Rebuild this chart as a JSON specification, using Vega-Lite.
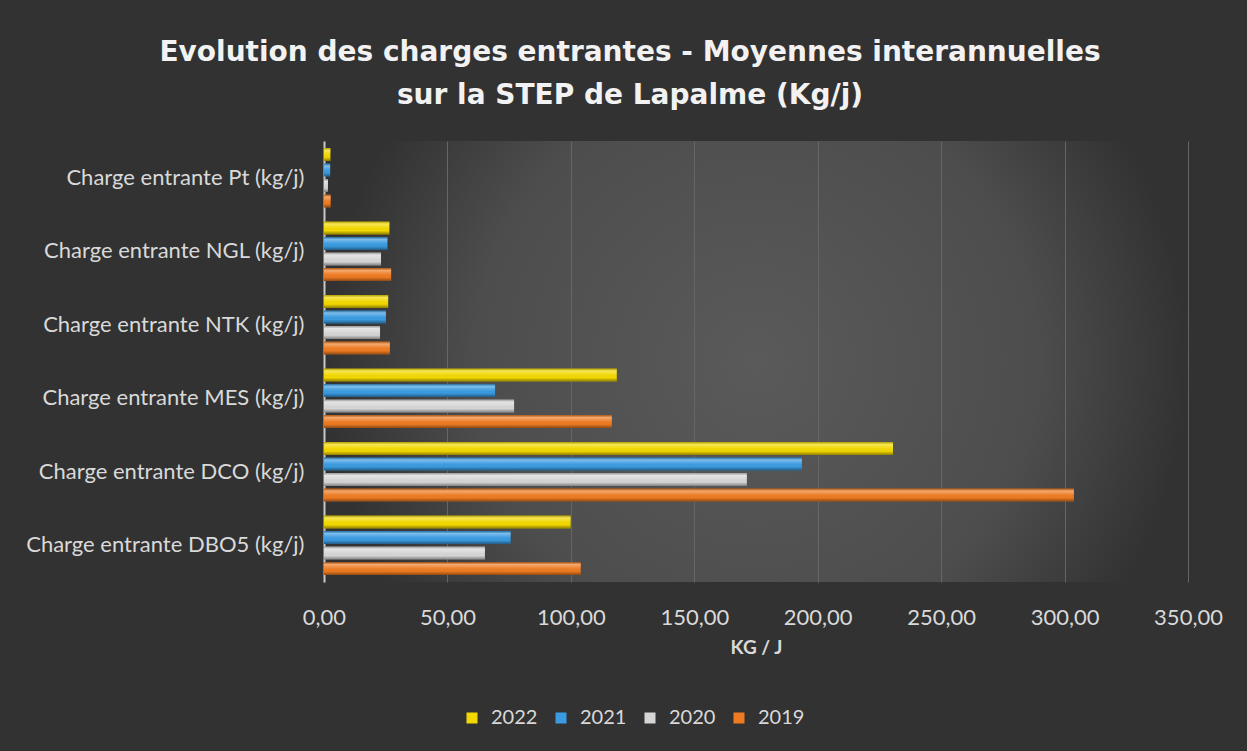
{
  "$schema": "https://vega.github.io/schema/vega-lite/v6.json",
  "width": 864,
  "height": 441,
  "autosize": {"type": "none"},
  "padding": {"left": 324, "top": 141, "right": 59, "bottom": 169},
  "background": "#323232",
  "title": {
    "text": ["Evolution des charges entrantes - Moyennes interannuelles", "sur la STEP de Lapalme (Kg/j)"],
    "font": "DejaVu Sans",
    "fontWeight": "bold",
    "fontSize": 28,
    "color": "#f2f2f2",
    "lineHeight": 43,
    "anchor": "middle",
    "dx": -126,
    "offset": 31
  },
  "data": {
    "values": [
      {"cat": "Charge entrante Pt (kg/j)", "year": "2022", "value": 2.6},
      {"cat": "Charge entrante Pt (kg/j)", "year": "2021", "value": 2.5},
      {"cat": "Charge entrante Pt (kg/j)", "year": "2020", "value": 1.6},
      {"cat": "Charge entrante Pt (kg/j)", "year": "2019", "value": 2.7},
      {"cat": "Charge entrante NGL (kg/j)", "year": "2022", "value": 26.5},
      {"cat": "Charge entrante NGL (kg/j)", "year": "2021", "value": 25.7},
      {"cat": "Charge entrante NGL (kg/j)", "year": "2020", "value": 23.1},
      {"cat": "Charge entrante NGL (kg/j)", "year": "2019", "value": 27.2},
      {"cat": "Charge entrante NTK (kg/j)", "year": "2022", "value": 26.0},
      {"cat": "Charge entrante NTK (kg/j)", "year": "2021", "value": 25.1},
      {"cat": "Charge entrante NTK (kg/j)", "year": "2020", "value": 22.7},
      {"cat": "Charge entrante NTK (kg/j)", "year": "2019", "value": 26.7},
      {"cat": "Charge entrante MES (kg/j)", "year": "2022", "value": 118.6},
      {"cat": "Charge entrante MES (kg/j)", "year": "2021", "value": 69.3},
      {"cat": "Charge entrante MES (kg/j)", "year": "2020", "value": 77.0},
      {"cat": "Charge entrante MES (kg/j)", "year": "2019", "value": 116.6},
      {"cat": "Charge entrante DCO (kg/j)", "year": "2022", "value": 230.5},
      {"cat": "Charge entrante DCO (kg/j)", "year": "2021", "value": 193.6},
      {"cat": "Charge entrante DCO (kg/j)", "year": "2020", "value": 171.3},
      {"cat": "Charge entrante DCO (kg/j)", "year": "2019", "value": 303.8},
      {"cat": "Charge entrante DBO5 (kg/j)", "year": "2022", "value": 99.9},
      {"cat": "Charge entrante DBO5 (kg/j)", "year": "2021", "value": 75.6},
      {"cat": "Charge entrante DBO5 (kg/j)", "year": "2020", "value": 65.2},
      {"cat": "Charge entrante DBO5 (kg/j)", "year": "2019", "value": 104.0}
    ]
  },
  "encoding": {
    "x": {
      "field": "value",
      "type": "quantitative",
      "scale": {"domain": [0, 350], "nice": false},
      "axis": {
        "values": [0, 50, 100, 150, 200, 250, 300, 350],
        "labelExpr": "replace(format(datum.value, '.2f'), '.', ',')",
        "title": "KG / J"
      }
    },
    "y": {
      "field": "cat",
      "type": "nominal",
      "sort": [
        "Charge entrante Pt (kg/j)",
        "Charge entrante NGL (kg/j)",
        "Charge entrante NTK (kg/j)",
        "Charge entrante MES (kg/j)",
        "Charge entrante DCO (kg/j)",
        "Charge entrante DBO5 (kg/j)"
      ],
      "scale": {"paddingInner": 0.157, "paddingOuter": 0.078},
      "axis": {"title": null}
    },
    "yOffset": {
      "field": "year",
      "type": "nominal",
      "sort": ["2022", "2021", "2020", "2019"],
      "scale": {"paddingInner": 0.17, "paddingOuter": 0.08}
    }
  },
  "layer": [
    {
      "mark": {"type": "bar"},
      "encoding": {
        "color": {
          "field": "year",
          "type": "nominal",
          "sort": ["2022", "2021", "2020", "2019"],
          "scale": {
            "domain": ["2022", "2021", "2020", "2019"],
            "range": ["#f2d800", "#3a9be0", "#d6d6d6", "#ee7b22"]
          },
          "legend": {
            "title": null,
            "orient": "none",
            "legendX": 138,
            "legendY": 567,
            "direction": "horizontal"
          }
        }
      }
    },
    {
      "mark": {
        "type": "bar",
        "fill": {
          "gradient": "linear",
          "x1": 0, "y1": 0, "x2": 0, "y2": 1,
          "stops": [
            {"offset": 0, "color": "rgba(0,0,0,0.25)"},
            {"offset": 0.18, "color": "rgba(255,255,255,0.35)"},
            {"offset": 0.45, "color": "rgba(255,255,255,0.08)"},
            {"offset": 0.7, "color": "rgba(0,0,0,0)"},
            {"offset": 1, "color": "rgba(0,0,0,0.4)"}
          ]
        }
      },
      "encoding": {}
    }
  ],
  "config": {
    "view": {
      "stroke": null,
      "fill": {
        "gradient": "radial",
        "x1": 0.5, "y1": 0.5, "r1": 0,
        "x2": 0.5, "y2": 0.5, "r2": 0.5,
        "stops": [
          {"offset": 0, "color": "#5a5a5a"},
          {"offset": 0.65, "color": "#4d4d4d"},
          {"offset": 1, "color": "#323232"}
        ]
      }
    },
    "axisX": {
      "domain": false,
      "ticks": false,
      "grid": true,
      "gridColor": "#666666",
      "gridWidth": 1,
      "labelFont": "Lato",
      "labelFontSize": 22,
      "labelColor": "#d9d9d9",
      "labelPadding": 25,
      "labelFlush": false,
      "labelOverlap": false,
      "labelBound": false,
      "titleFont": "Lato",
      "titleFontWeight": "bold",
      "titleFontSize": 19,
      "titleColor": "#d9d9d9",
      "titlePadding": 10
    },
    "axisY": {
      "domain": true,
      "domainColor": "#c8c8c8",
      "domainWidth": 2,
      "ticks": false,
      "grid": false,
      "labelFont": "Lato",
      "labelFontSize": 22,
      "labelColor": "#d9d9d9",
      "labelPadding": 20,
      "labelLimit": 0,
      "zindex": 1
    },
    "legend": {
      "symbolType": "square",
      "symbolSize": 121,
      "symbolStrokeWidth": 0,
      "labelFont": "Lato",
      "labelFontSize": 20,
      "labelColor": "#d9d9d9",
      "labelOffset": 9,
      "columnPadding": 13
    }
  }
}
